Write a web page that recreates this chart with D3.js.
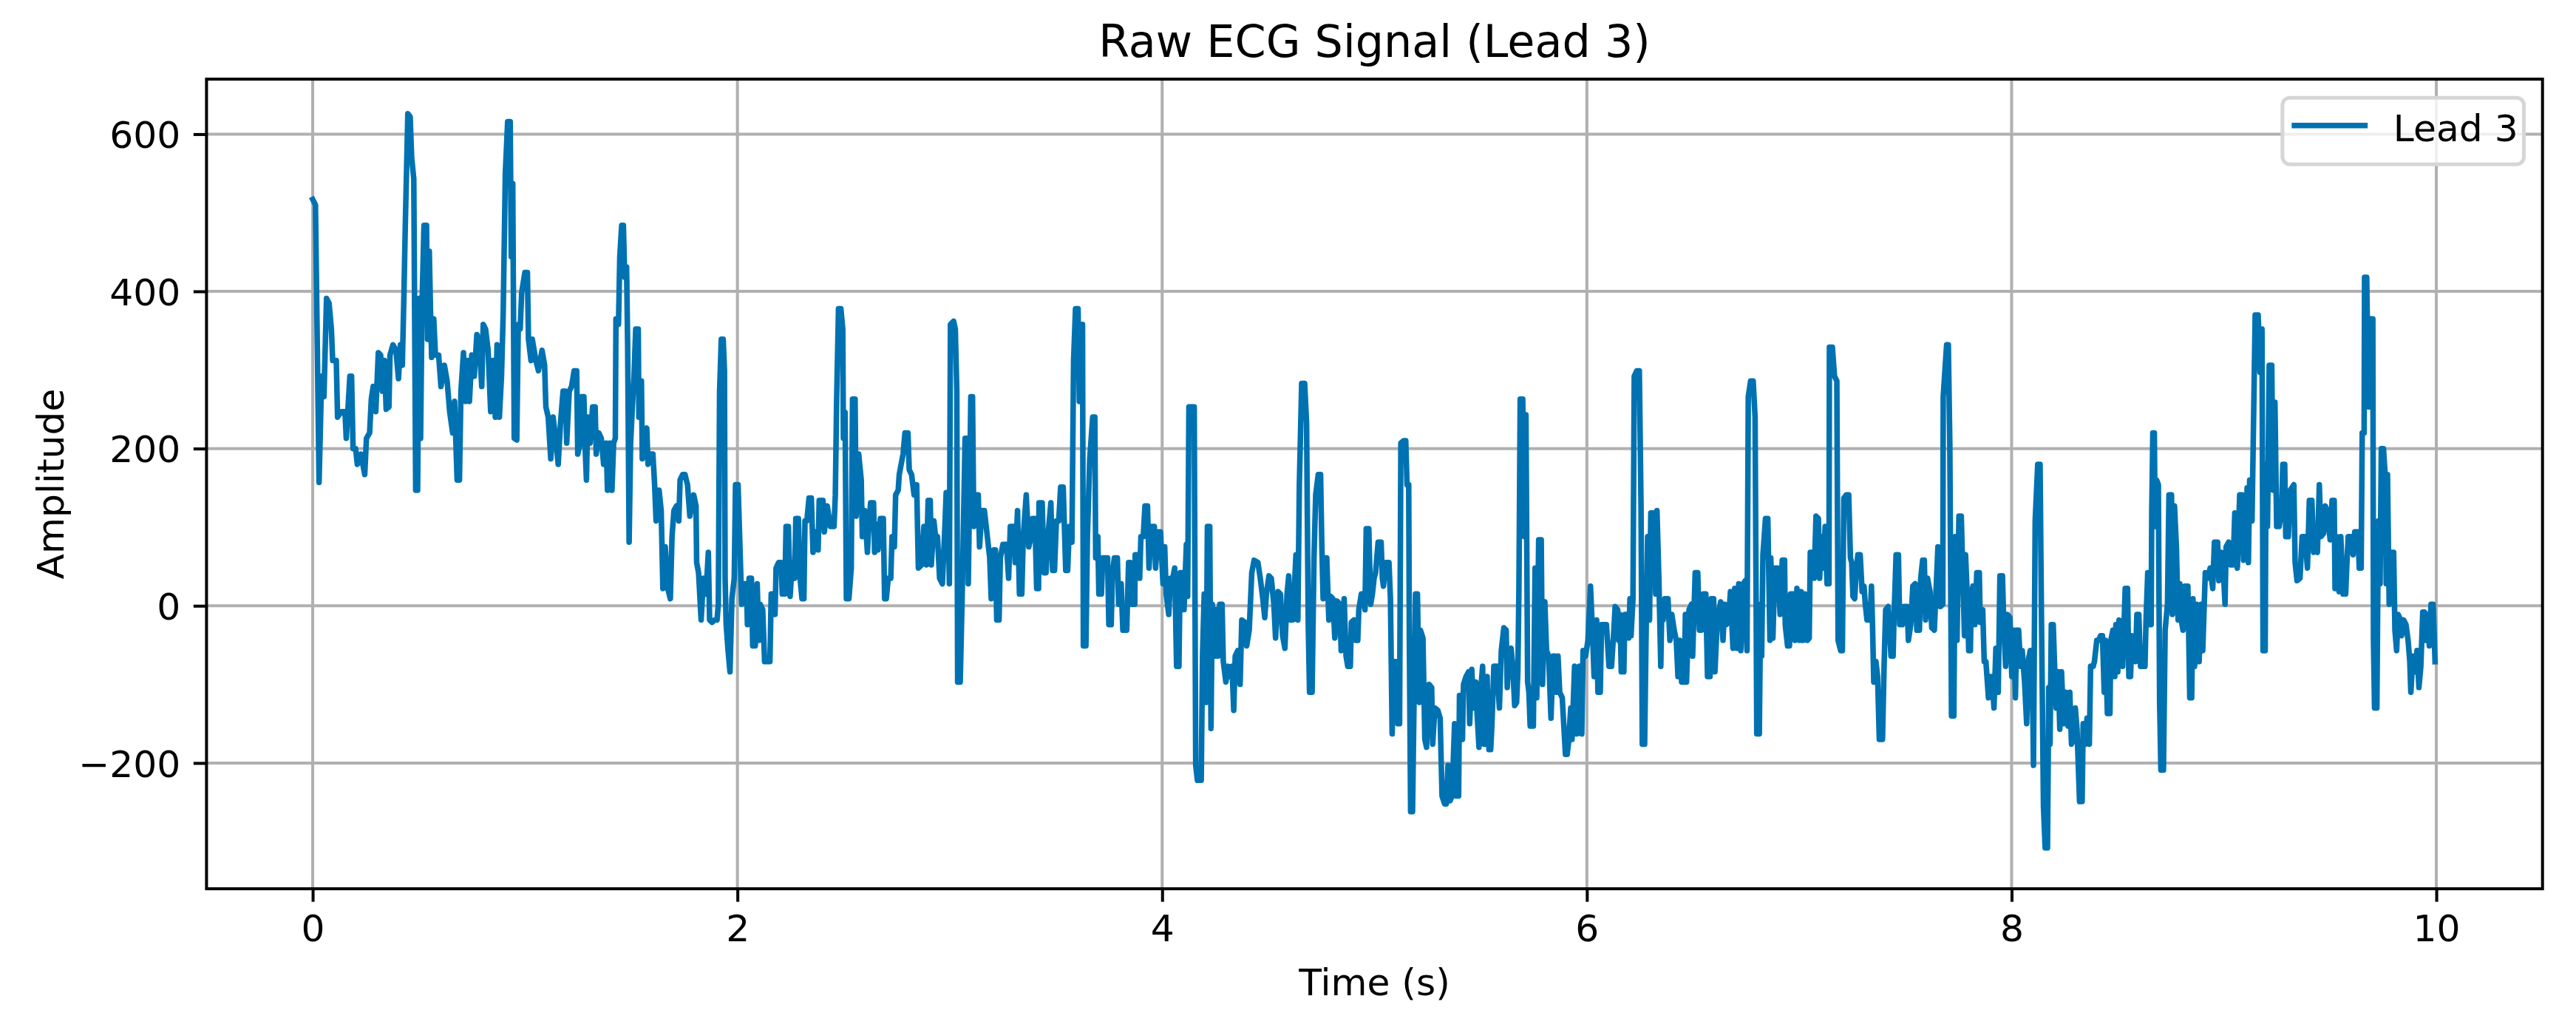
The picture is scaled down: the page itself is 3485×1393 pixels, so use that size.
<!DOCTYPE html>
<html>
<head>
<meta charset="utf-8">
<script src="https://cdn.jsdelivr.net/npm/d3@7"></script>
<style>
  html, body { margin: 0; padding: 0; background: #fff; }
  svg { display: block; }
</style>
</head>
<body>
<svg id="chart" width="3485" height="1393"></svg>
<script>
// values, [time (s), amplitude]
const lead3 = [
  [0,517],[0.013,510],[0.030,157],[0.042,292],[0.053,266],[0.065,391],[0.077,385],[0.088,352],[0.094,312],[0.111,312],
  [0.117,240],[0.135,247],[0.152,247],[0.158,213],[0.175,292],[0.183,292],[0.190,200],[0.202,200],[0.210,180],[0.227,193],
  [0.245,167],[0.253,213],[0.268,220],[0.276,263],[0.285,279],[0.297,247],[0.309,322],[0.320,319],[0.328,273],[0.338,312],
  [0.346,250],[0.359,253],[0.364,319],[0.378,332],[0.392,325],[0.404,289],[0.413,332],[0.422,306],[0.429,388],[0.436,484],
  [0.448,626],[0.459,622],[0.466,570],[0.476,543],[0.485,147],[0.494,147],[0.501,391],[0.508,213],[0.515,385],[0.524,484],
  [0.536,484],[0.541,339],[0.549,451],[0.555,372],[0.560,316],[0.570,365],[0.578,319],[0.593,319],[0.604,279],[0.620,306],
  [0.633,286],[0.645,247],[0.659,220],[0.668,260],[0.680,160],[0.691,160],[0.698,273],[0.710,322],[0.720,260],[0.729,312],
  [0.738,260],[0.749,319],[0.761,292],[0.773,345],[0.784,339],[0.796,279],[0.803,358],[0.814,352],[0.826,325],[0.838,247],
  [0.849,312],[0.860,240],[0.868,332],[0.879,240],[0.889,292],[0.897,372],[0.907,550],[0.918,616],[0.930,616],[0.935,444],
  [0.942,537],[0.949,213],[0.961,211],[0.968,358],[0.977,352],[0.984,398],
  [0.999,424],[1.011,424],[1.016,339],[1.028,312],[1.034,339],[1.051,312],[1.063,299],[1.080,325],[1.092,306],[1.098,253],
  [1.109,240],[1.121,187],[1.132,240],[1.144,213],[1.156,180],[1.167,233],[1.179,273],[1.190,273],[1.196,207],[1.208,273],
  [1.219,279],[1.231,299],[1.243,299],[1.248,193],[1.260,207],[1.266,266],[1.277,266],[1.283,200],[1.289,160],[1.295,240],
  [1.306,207],[1.318,253],[1.330,253],[1.335,193],[1.347,220],[1.359,213],[1.370,180],[1.382,207],[1.388,147],[1.399,207],
  [1.409,147],[1.417,207],[1.425,213],[1.428,365],[1.440,358],[1.446,444],[1.455,484],[1.463,484],[1.469,418],[1.478,431],
  [1.483,332],[1.490,81],[1.497,207],[1.504,246],[1.513,292],[1.521,352],[1.533,352],[1.536,240],[1.548,286],[1.552,187],
  [1.562,220],[1.573,226],[1.579,180],[1.591,193],[1.602,193],[1.610,154],[1.617,108],[1.631,147],[1.641,121],[1.649,22],
  [1.660,75],[1.672,22],[1.684,9],[1.692,88],[1.701,121],[1.713,127],[1.724,108],[1.730,160],[1.742,167],[1.753,167],
  [1.765,154],[1.776,114],[1.794,141],[1.805,127],[1.808,55],[1.817,42],[1.829,-18],[1.840,35],[1.852,15],[1.863,68],
  [1.869,-18],[1.881,-21],[1.892,-18],[1.904,-18],[1.910,2],[1.916,273],[1.924,339],[1.933,339],[1.939,299],[1.942,35],
  [1.947,-24],[1.956,-57],[1.965,-84],[1.974,9],[1.985,35],[1.991,154],[2.003,154],
  [2.020,2],[2.032,28],[2.043,28],[2.047,-24],[2.055,35],[2.066,35],[2.072,-51],[2.084,-51],[2.093,28],[2.101,-44],
  [2.107,2],[2.119,-5],[2.128,-71],[2.142,-71],[2.153,-71],[2.159,15],[2.171,15],[2.177,-11],[2.182,48],[2.194,55],
  [2.206,55],[2.211,15],[2.223,15],[2.229,101],[2.240,101],[2.248,12],[2.258,55],[2.269,35],[2.275,111],[2.287,111],
  [2.295,35],[2.304,9],[2.313,9],[2.318,108],[2.327,108],[2.337,137],[2.348,137],[2.356,68],[2.368,94],[2.380,71],
  [2.385,134],[2.403,134],[2.409,94],[2.423,127],[2.438,101],[2.455,101],[2.461,141],[2.467,260],[2.476,378],[2.487,378],
  [2.496,352],[2.499,213],[2.507,246],[2.513,9],[2.525,9],[2.536,48],[2.542,263],[2.554,263],[2.559,114],[2.571,193],
  [2.583,160],[2.588,88],[2.600,121],[2.612,68],[2.617,94],[2.627,131],[2.641,131],[2.646,68],[2.655,104],[2.662,71],
  [2.673,111],[2.687,111],[2.693,9],[2.701,9],[2.710,35],[2.722,35],[2.728,88],[2.739,75],[2.745,141],[2.757,147],
  [2.762,167],[2.780,193],[2.789,220],[2.803,220],[2.809,173],[2.820,167],[2.832,141],[2.844,154],[2.852,48],[2.867,52],
  [2.878,101],[2.890,52],[2.898,134],[2.908,134],[2.913,52],[2.925,108],[2.933,88],[2.942,88],[2.952,35],[2.965,28],
  [2.977,101],[2.983,144],[2.991,144],[2.998,28],[3.003,358],[3.018,362],[3.026,352],[3.033,273],[3.037,-97],[3.049,-97],
  [3.058,9],[3.072,213],[3.084,213],[3.087,28],[3.093,141],[3.099,266],[3.107,266],[3.113,101],[3.122,141],[3.134,141],
  [3.140,75],[3.151,121],[3.163,121],
  [3.188,61],[3.195,9],[3.207,71],[3.215,71],[3.221,-18],[3.232,-18],[3.238,61],[3.250,78],[3.267,78],[3.277,35],
  [3.285,101],[3.302,101],[3.308,55],[3.319,121],[3.328,15],[3.339,15],[3.346,88],[3.360,141],[3.372,75],[3.383,88],
  [3.389,111],[3.401,111],[3.409,22],[3.418,22],[3.420,131],[3.435,131],[3.444,42],[3.453,42],[3.462,88],[3.476,131],
  [3.484,45],[3.493,45],[3.502,108],[3.513,108],[3.522,151],[3.534,151],[3.546,45],[3.555,45],[3.563,101],[3.575,81],
  [3.583,312],[3.592,378],[3.604,378],[3.610,260],[3.615,358],[3.625,358],[3.629,-51],[3.641,-51],[3.648,88],[3.659,187],
  [3.673,240],[3.683,240],[3.687,61],[3.697,88],[3.702,15],[3.714,15],[3.720,61],[3.731,61],[3.743,61],[3.749,-24],
  [3.760,-24],[3.766,42],[3.775,61],[3.789,61],[3.795,2],[3.807,28],[3.815,-31],[3.833,-31],[3.842,55],[3.850,55],
  [3.857,2],[3.871,2],[3.873,65],[3.888,65],[3.894,35],[3.900,88],[3.911,88],[3.919,127],[3.931,127],[3.938,48],
  [3.949,101],[3.963,101],[3.969,48],[3.981,94],[3.992,94],[4.004,28],[4.012,75],[4.019,15],[4.031,-11],[4.039,35],
  [4.050,35],[4.059,48],[4.068,-77],[4.079,-77],[4.085,42],[4.097,42],[4.103,-5],[4.114,78],[4.120,12],[4.126,253],
  [4.140,253],[4.151,253],[4.158,-203],[4.166,-222],[4.184,-222],[4.190,-64],[4.198,15],[4.207,-123],[4.213,101],[4.224,101],
  [4.230,-156],[4.236,2],[4.248,-64],[4.253,-5],[4.263,-64],[4.271,2],[4.282,2],[4.288,-71],[4.300,-97],[4.311,-77],
  [4.317,-90],[4.329,-77],[4.337,-133],[4.344,-64],[4.356,-57],[4.367,-100],[4.375,-18],[4.390,-21],[4.398,-51],[4.410,-31],
  [4.422,42],[4.433,58],[4.451,55],[4.462,35],[4.474,9],[4.483,-15],[4.491,15],[4.503,38],[4.514,35],[4.526,2],
  [4.534,-41],[4.546,18],[4.557,15],[4.567,-38],[4.578,-54],[4.588,15],[4.596,38],[4.604,-18],[4.615,-18],[4.622,18],
  [4.630,65],[4.639,-18],[4.646,154],[4.657,283],[4.671,283],[4.680,233],[4.688,-24],[4.694,-110],[4.706,-110],[4.715,61],
  [4.723,141],[4.735,167],[4.746,167],[4.752,75],[4.758,9],[4.764,61],[4.775,61],[4.785,-18],[4.793,12],[4.804,9],
  [4.813,-41],[4.824,6],[4.836,2],[4.843,-57],[4.857,9],[4.866,-64],[4.874,-77],[4.886,-77],[4.891,-21],[4.903,-18],
  [4.912,-44],[4.921,-44],[4.926,-5],[4.938,15],[4.950,15],[4.955,-5],[4.961,98],[4.973,98],[4.982,2],[4.990,15],
  [4.998,35],[5.005,42],[5.017,81],[5.031,81],[5.037,35],[5.042,25],[5.054,55],[5.068,55],[5.075,9],[5.083,-163],
  [5.091,-71],[5.100,-71],[5.110,-150],[5.118,-150],[5.124,207],[5.137,210],[5.147,210],[5.153,154],[5.161,154],[5.164,-44],
  [5.170,-262],[5.179,-262],[5.187,-104],[5.193,15],[5.202,15],[5.211,-123],[5.216,-31],[5.228,-41],[5.237,-170],[5.245,-180],
  [5.257,-100],[5.269,-104],[5.274,-176],[5.284,-130],[5.298,-133],[5.309,-143],[5.318,-242],[5.330,-252],[5.338,-252],[5.346,-203],
  [5.356,-248],[5.365,-242],[5.377,-150],[5.385,-242],[5.396,-242],[5.400,-114],[5.408,-114],[5.414,-170],[5.419,-100],[5.431,-90],
  [5.443,-84],[5.448,-150],[5.458,-81],[5.466,-130],
  [5.477,-97],[5.483,-137],[5.492,-180],[5.501,-104],[5.509,-77],[5.516,-176],[5.524,-176],[5.530,-90],[5.539,-183],[5.547,-183],
  [5.553,-150],[5.562,-77],[5.576,-77],[5.588,-130],[5.597,-57],[5.609,-28],[5.620,-31],[5.625,-104],[5.634,-57],[5.643,-54],
  [5.651,-77],[5.660,-127],[5.669,-123],[5.675,-84],[5.680,22],[5.686,263],[5.698,263],[5.706,88],[5.713,243],[5.721,-97],
  [5.727,-110],[5.733,-153],[5.748,-153],[5.756,48],[5.764,-117],[5.773,84],[5.785,84],[5.791,-100],[5.802,5],[5.810,-57],
  [5.820,-64],[5.831,-143],[5.841,-64],[5.849,-64],[5.857,-110],[5.864,-64],[5.872,-110],[5.884,-117],[5.899,-189],[5.907,-189],
  [5.913,-176],[5.924,-130],[5.930,-170],[5.942,-77],[5.953,-163],[5.965,-77],[5.976,-163],[5.982,-57],[5.994,-64],[6.005,-44],
  [6.017,25],[6.026,-31],[6.034,-90],[6.046,-18],[6.052,-110],[6.063,-110],[6.069,-24],[6.081,-24],[6.092,-24],[6.104,-77],
  [6.116,-77],[6.127,-31],[6.133,-1],[6.145,-5],[6.150,-44],[6.156,-11],[6.162,-84],[6.174,-84],[6.179,-11],[6.191,-11],
  [6.197,-41],[6.203,9],[6.208,-38],[6.217,9],[6.223,292],[6.235,299],[6.247,299],[6.255,127],[6.261,-176],[6.272,-176],
  [6.278,-51],[6.286,88],[6.295,-18],[6.301,118],[6.316,118],[6.324,15],[6.330,121],[6.339,35],[6.348,-77],[6.353,2],
  [6.359,-18],[6.367,9],[6.382,9],[6.391,-44],[6.400,-11],[6.411,-31],[6.421,-44],[6.429,-90],[6.437,-44],[6.446,-97],
  [6.458,-97],[6.464,-11],[6.469,-97],[6.481,-5],[6.493,2],[6.498,-64],[6.510,42],[6.522,42],[6.530,-31],[6.539,-31],
  [6.548,15],[6.560,15],[6.568,-90],[6.580,-90],[6.585,9],[6.597,9],[6.603,-84],[6.614,-18],
  [6.630,5],[6.641,-44],[6.649,2],[6.657,-24],[6.667,-18],[6.676,18],[6.688,-54],[6.696,22],[6.707,-54],[6.715,28],
  [6.725,-57],[6.736,28],[6.746,32],[6.754,-57],[6.760,266],[6.771,286],[6.783,286],[6.792,240],[6.797,2],[6.800,-163],
  [6.812,-163],[6.818,2],[6.823,-64],[6.829,65],[6.841,111],[6.852,111],[6.862,-44],[6.866,61],[6.876,-41],[6.885,48],
  [6.899,48],[6.910,-11],[6.920,58],[6.931,58],[6.934,-24],[6.945,-51],[6.954,-51],[6.959,15],[6.971,15],[6.980,-44],
  [6.989,22],[7.001,-44],[7.009,18],[7.017,-44],[7.026,15],[7.038,-44],[7.047,-41],[7.052,68],[7.064,68],[7.070,35],
  [7.079,114],[7.090,111],[7.096,35],[7.105,88],[7.113,48],[7.122,101],[7.131,28],[7.140,28],[7.142,329],[7.156,329],
  [7.166,292],[7.177,286],[7.183,-44],[7.195,-57],[7.203,-57],[7.210,137],[7.221,141],[7.233,141],[7.241,61],[7.247,55],
  [7.253,12],[7.261,9],[7.268,42],[7.276,65],[7.287,65],[7.296,18],[7.305,25],[7.311,2],[7.319,-18],[7.334,-18],
  [7.340,25],[7.345,-24],[7.351,-97],[7.361,-71],[7.369,-90],[7.377,-170],[7.392,-170],[7.400,-71],[7.407,-5],[7.419,-1],
  [7.427,-38],[7.432,-64],[7.442,-64],[7.446,-18],[7.456,65],[7.467,65],[7.473,-24],[7.485,-24],[7.493,-1],[7.508,-1],
  [7.514,-44],[7.525,-24],[7.535,25],[7.546,28],[7.554,-31],[7.566,-31],[7.572,35],[7.581,58],[7.589,58],[7.595,-18],
  [7.604,35],[7.616,18],[7.624,-28],[7.636,-31],[7.644,18],[7.653,75],[7.665,-1],[7.676,2],[7.678,266],[7.694,332],
  [7.702,332],[7.709,207],[7.717,-140],[7.728,-140],[7.734,88],[7.743,-44],[7.752,114],[7.763,114],
  [7.778,-38],[7.783,65],[7.792,9],[7.798,-57],[7.806,-57],[7.810,15],[7.818,25],[7.827,-24],[7.836,42],[7.848,42],
  [7.852,-21],[7.864,-5],[7.871,-71],[7.879,-71],[7.891,-117],[7.902,-90],[7.908,-90],[7.917,-130],[7.926,-54],[7.937,-110],
  [7.945,38],[7.957,38],[7.964,-31],[7.972,-77],[7.980,-11],[7.992,-15],[8.001,-90],[8.010,-31],[8.018,-117],[8.024,-31],
  [8.033,-31],[8.042,-77],[8.050,-57],[8.061,-97],[8.071,-150],[8.080,-67],[8.088,-57],[8.096,-57],[8.103,-203],[8.111,108],
  [8.123,180],[8.134,180],[8.140,2],[8.150,-255],[8.158,-308],[8.169,-308],[8.175,-104],[8.181,-176],[8.187,-24],[8.196,-24],
  [8.204,-90],[8.210,-130],[8.219,-84],[8.227,-157],[8.235,-84],[8.245,-150],[8.254,-110],[8.266,-153],[8.274,-110],[8.282,-176],
  [8.291,-170],[8.300,-130],[8.308,-157],[8.320,-249],[8.332,-249],[8.337,-150],[8.347,-176],[8.355,-143],[8.366,-176],[8.372,-77],
  [8.384,-77],[8.390,-71],[8.401,-44],[8.409,-44],[8.419,-38],[8.428,-38],[8.436,-110],[8.442,-44],[8.451,-137],[8.463,-137],
  [8.467,-44],[8.477,-31],[8.486,-90],[8.491,-24],[8.500,-84],[8.506,-18],[8.514,-21],[8.523,-77],[8.535,22],[8.546,22],
  [8.552,-90],[8.560,-90],[8.567,-38],[8.575,-44],[8.583,-71],[8.590,-11],[8.599,-11],[8.607,-77],[8.616,-77],[8.628,-77],
  [8.633,-18],[8.641,42],[8.651,-24],[8.657,-24],[8.660,121],[8.665,220],[8.672,220],[8.676,101],[8.683,160],[8.691,154],
  [8.697,-123],[8.703,-209],[8.715,-209],[8.723,-31],[8.734,2],[8.741,141],[8.753,141],[8.757,-11],[8.767,127],[8.776,75],
  [8.784,-18],[8.792,28],[8.799,-18],[8.807,-31],[8.815,25],[8.830,25],[8.839,-117],[8.848,-117],[8.854,9],[8.862,-77],
  [8.871,2],[8.883,-71],[8.892,2],[8.900,-57],[8.912,42],
  [8.923,35],[8.935,48],[8.947,22],[8.955,81],[8.970,81],[8.976,32],[8.987,68],[8.999,35],[9.005,2],[9.010,75],
  [9.022,81],[9.031,52],[9.043,52],[9.051,118],[9.063,48],[9.074,141],[9.086,141],[9.092,58],[9.101,61],[9.109,150],
  [9.115,55],[9.121,160],[9.132,108],[9.140,246],[9.147,370],[9.161,370],[9.170,297],[9.179,352],[9.184,-57],[9.194,-57],
  [9.198,180],[9.205,101],[9.213,306],[9.225,306],[9.231,147],[9.240,259],[9.248,101],[9.260,101],[9.271,121],[9.277,180],
  [9.286,180],[9.291,88],[9.303,88],[9.312,147],[9.329,154],[9.335,55],[9.344,32],[9.358,35],[9.368,88],[9.382,88],
  [9.393,48],[9.402,134],[9.414,134],[9.422,68],[9.428,75],[9.440,68],[9.449,154],[9.457,88],[9.469,92],[9.477,127],
  [9.486,121],[9.500,84],[9.509,134],[9.519,134],[9.523,22],[9.532,88],[9.542,18],[9.550,88],[9.561,15],[9.573,15],
  [9.579,55],[9.585,88],[9.596,88],[9.608,65],[9.616,94],[9.631,94],[9.637,48],[9.646,48],[9.651,220],[9.660,220],
  [9.662,418],[9.672,418],[9.681,253],[9.689,365],[9.701,365],[9.704,-44],[9.709,-130],[9.720,-130],[9.727,108],[9.735,28],
  [9.741,200],[9.751,200],[9.759,167],[9.764,28],[9.770,167],[9.778,2],[9.785,68],[9.799,68],[9.805,-31],[9.813,-57],
  [9.820,-11],[9.832,-18],[9.836,-38],[9.846,-18],[9.857,-24],[9.867,-44],[9.875,-71],[9.880,-110],[9.890,-64],[9.901,-84],
  [9.909,-57],[9.918,-104],[9.927,-77],[9.936,-8],[9.944,-8],[9.950,-44],[9.959,-11],[9.967,-51],[9.975,2],[9.985,2],
  [9.994,-71]
];

const xTicks = [0, 2, 4, 6, 8, 10];
const yTicks = [-200, 0, 200, 400, 600];
const xDomain = [-0.5, 10.5];
const yDomain = [-360, 670];
const seriesName = "Lead 3";
const chartTitle = "Raw ECG Signal (Lead 3)";
const xLabel = "Time (s)";
const yLabel = "Amplitude";

const svg = d3.select("#chart");
const W = +svg.attr("width"), H = +svg.attr("height");
const margin = {top: 107, right: 45.3, bottom: 191, left: 279.4};
const pt = 5.03;           // px per point
const fontFamily = "'DejaVu Sans', sans-serif";
const lineColor = "#0072B2";

svg.append("rect").attr("width", W).attr("height", H).attr("fill", "#fff");

const x = d3.scaleLinear().domain(xDomain).range([margin.left, W - margin.right]);
const y = d3.scaleLinear().domain(yDomain).range([H - margin.bottom, margin.top]);

// grid
const grid = svg.append("g").attr("stroke", "#b0b0b0").attr("stroke-width", 0.8 * pt);
grid.selectAll(".gx").data(xTicks).join("line")
  .attr("x1", d => x(d)).attr("x2", d => x(d))
  .attr("y1", margin.top).attr("y2", H - margin.bottom);
grid.selectAll(".gy").data(yTicks).join("line")
  .attr("y1", d => y(d)).attr("y2", d => y(d))
  .attr("x1", margin.left).attr("x2", W - margin.right);

// signal
svg.append("clipPath").attr("id", "plotclip").append("rect")
  .attr("x", margin.left).attr("y", margin.top)
  .attr("width", W - margin.left - margin.right)
  .attr("height", H - margin.top - margin.bottom);

const line = d3.line().x(d => x(d[0])).y(d => y(d[1]));
svg.append("path")
  .datum(lead3)
  .attr("clip-path", "url(#plotclip)")
  .attr("fill", "none")
  .attr("stroke", lineColor)
  .attr("stroke-width", 1.5 * pt)
  .attr("stroke-linejoin", "round")
  .attr("stroke-linecap", "square")
  .attr("d", line);

// axes
const tickLen = 3.5 * pt;
const xAxis = svg.append("g")
  .attr("transform", `translate(0,${H - margin.bottom})`)
  .call(d3.axisBottom(x).tickValues(xTicks).tickFormat(d3.format("d"))
    .tickSize(tickLen).tickPadding(tickLen).tickSizeOuter(0));
const yAxis = svg.append("g")
  .attr("transform", `translate(${margin.left},0)`)
  .call(d3.axisLeft(y).tickValues(yTicks).tickFormat(d3.format("d"))
    .tickSize(tickLen).tickPadding(tickLen).tickSizeOuter(0));

[xAxis, yAxis].forEach(g => {
  g.select(".domain").remove();
  g.selectAll(".tick line").attr("stroke", "#000").attr("stroke-width", 0.8 * pt);
  g.selectAll(".tick text").attr("fill", "#000")
    .style("font-family", fontFamily).style("font-size", (10 * pt) + "px");
});
yAxis.selectAll(".tick text").attr("dy", "0.36em");

// spines
svg.append("rect")
  .attr("x", margin.left).attr("y", margin.top)
  .attr("width", W - margin.left - margin.right)
  .attr("height", H - margin.top - margin.bottom)
  .attr("fill", "none").attr("stroke", "#000").attr("stroke-width", 0.8 * pt);

// title and labels
svg.append("text")
  .attr("x", (margin.left + W - margin.right) / 2).attr("y", margin.top - 6 * pt)
  .attr("text-anchor", "middle")
  .style("font-family", fontFamily).style("font-size", (12 * pt) + "px")
  .text(chartTitle);

svg.append("text")
  .attr("x", (margin.left + W - margin.right) / 2).attr("y", 1346)
  .attr("text-anchor", "middle")
  .style("font-family", fontFamily).style("font-size", (10 * pt) + "px")
  .text(xLabel);

svg.append("text")
  .attr("transform", `translate(86,${(margin.top + H - margin.bottom) / 2}) rotate(-90)`)
  .attr("text-anchor", "middle")
  .style("font-family", fontFamily).style("font-size", (10 * pt) + "px")
  .text(yLabel);

// legend
const lgX = W - margin.right - 0.5 * 10 * pt - 326.7;
const lgY = margin.top + 0.5 * 10 * pt;
const legend = svg.append("g").attr("transform", `translate(${lgX},${lgY})`);
legend.append("rect")
  .attr("width", 326.7).attr("height", 90)
  .attr("rx", 2 * pt).attr("ry", 2 * pt)
  .attr("fill", "#fff").attr("fill-opacity", 0.8)
  .attr("stroke", "#d6d6d6").attr("stroke-width", 1 * pt);
legend.append("line")
  .attr("x1", 12.5).attr("x2", 115.3).attr("y1", 37.6).attr("y2", 37.6)
  .attr("stroke", lineColor).attr("stroke-width", 1.5 * pt);
legend.append("text")
  .attr("x", 150).attr("y", 59.3)
  .style("font-family", fontFamily).style("font-size", (10 * pt) + "px")
  .text(seriesName);
</script>
</body>
</html>
